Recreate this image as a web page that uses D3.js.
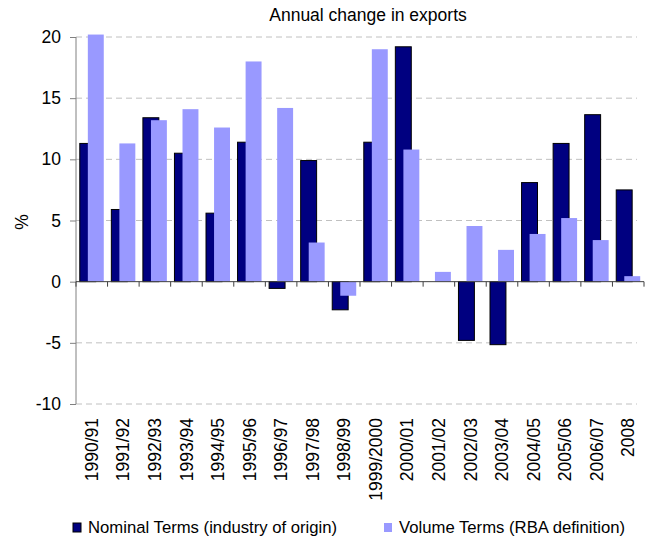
<!DOCTYPE html>
<html>
<head>
<meta charset="utf-8">
<script src="https://cdn.jsdelivr.net/npm/d3@7"></script>
<style>
    body { margin: 0; background: #fff; }
    svg { display: block; font-family: "Liberation Sans", Arial, sans-serif; }
</style>
</head>
<body>
<main></main>
<script>
// data
const years = ["1990/91", "1991/92", "1992/93", "1993/94", "1994/95", "1995/96", "1996/97", "1997/98",
    "1998/99", "1999/2000", "2000/01", "2001/02", "2002/03", "2003/04", "2004/05", "2005/06", "2006/07", "2008"];
const nominal = [11.3, 5.9, 13.4, 10.5, 5.6, 11.4, -0.55, 9.9, -2.3, 11.4, 19.2, 0, -4.8, -5.15, 8.1, 11.3, 13.65, 7.5];
const volume = [20.2, 11.3, 13.2, 14.1, 12.6, 18.0, 14.2, 3.2, -1.15, 19.0, 10.8, 0.8, 4.55, 2.6, 3.9, 5.2, 3.4, 0.45];
const yTicks = [-10, -5, 0, 5, 10, 15, 20];
const seriesNames = ["Nominal Terms (industry of origin)", "Volume Terms (RBA definition)"];

const WIDTH = 648, HEIGHT = 542;
const DARK = "#000080", LIGHT = "#9999ff";

const svg = d3.select("main")
    .append("svg")
    .attr("width", WIDTH)
    .attr("height", HEIGHT);

const x = d3.scaleBand()
    .domain(years)
    .range([76, 644])
    .paddingInner(0)
    .paddingOuter(0);

const y = d3.scaleLinear()
    .domain([-10, 20])
    .range([404, 37]);

const bw = x.bandwidth();

// dashed grid lines (not on zero, the axis sits there)
svg.append("g")
    .selectAll("line")
    .data(yTicks.filter(d => d !== 0))
    .enter()
    .append("line")
    .attr("x1", 76)
    .attr("x2", 637)
    .attr("y1", d => y(d))
    .attr("y2", d => y(d))
    .attr("stroke", "#c0c0c0")
    .attr("stroke-width", 1)
    .attr("stroke-dasharray", "6,4");

// nominal bars, drawn first so volume bars overlap them
svg.append("g")
    .selectAll("rect")
    .data(years.map((d, i) => ({year: d, v: nominal[i]})).filter(d => d.v !== 0))
    .enter()
    .append("rect")
    .attr("x", d => x(d.year) + bw * 0.12)
    .attr("y", d => y(Math.max(0, d.v)))
    .attr("width", bw * 0.505)
    .attr("height", d => Math.abs(y(d.v) - y(0)))
    .attr("fill", DARK)
    .attr("stroke", "#000")
    .attr("stroke-width", 1);

svg.append("g")
    .selectAll("rect")
    .data(years.map((d, i) => ({year: d, v: volume[i]})))
    .enter()
    .append("rect")
    .attr("x", d => x(d.year) + bw * 0.375)
    .attr("y", d => y(Math.max(0, d.v)))
    .attr("width", bw * 0.505)
    .attr("height", d => Math.abs(y(d.v) - y(0)))
    .attr("fill", LIGHT);

// y axis, plain hyphen for negatives like the original
const yAxis = svg.append("g")
    .attr("transform", "translate(76,0)")
    .call(d3.axisLeft(y).tickValues(yTicks).tickSize(6).tickPadding(9).tickFormat(d => String(d)));
yAxis.select(".domain").attr("stroke", "#808080").attr("d", "M0," + y(20) + "V" + y(-10));
yAxis.selectAll(".tick line").attr("stroke", "#808080");
yAxis.selectAll("text")
    .attr("font-family", "Liberation Sans, Arial, sans-serif")
    .attr("font-size", 17.5)
    .attr("fill", "#000");

// zero line with category ticks
const zero = svg.append("g");
zero.append("line")
    .attr("x1", 76).attr("x2", 644)
    .attr("y1", y(0)).attr("y2", y(0))
    .attr("stroke", "#404040");
zero.selectAll("line.tk")
    .data(years.map(d => x(d)).concat([644]))
    .enter()
    .append("line")
    .attr("class", "tk")
    .attr("x1", d => d).attr("x2", d => d)
    .attr("y1", y(0)).attr("y2", y(0) + 5)
    .attr("stroke", "#404040");

// category labels, rotated
svg.append("g")
    .selectAll("text")
    .data(years)
    .enter()
    .append("text")
    .attr("transform", d => "translate(" + (x(d) + bw / 2) + ",418) rotate(-90)")
    .attr("text-anchor", "end")
    .attr("dy", "0.35em")
    .attr("font-size", 17.5)
    .text(d => d);

// title and axis label
svg.append("text")
    .attr("x", 368)
    .attr("y", 21)
    .attr("text-anchor", "middle")
    .attr("font-size", 17.5)
    .text("Annual change in exports");

svg.append("text")
    .attr("transform", "translate(22,222) rotate(-90)")
    .attr("text-anchor", "middle")
    .attr("dy", "0.35em")
    .attr("font-size", 17.5)
    .text("%");

// legend
const legend = svg.append("g")
    .selectAll("g")
    .data(seriesNames)
    .enter()
    .append("g")
    .attr("transform", (d, i) => "translate(" + [73, 384][i] + ",0)");
legend.append("rect")
    .attr("x", 0).attr("y", 523)
    .attr("width", 8).attr("height", 9)
    .attr("fill", (d, i) => i === 0 ? DARK : LIGHT)
    .attr("stroke", (d, i) => i === 0 ? "#000" : "none");
legend.append("text")
    .attr("x", 15)
    .attr("y", 533)
    .attr("font-size", 16.7)
    .text(d => d);
</script>
</body>
</html>
